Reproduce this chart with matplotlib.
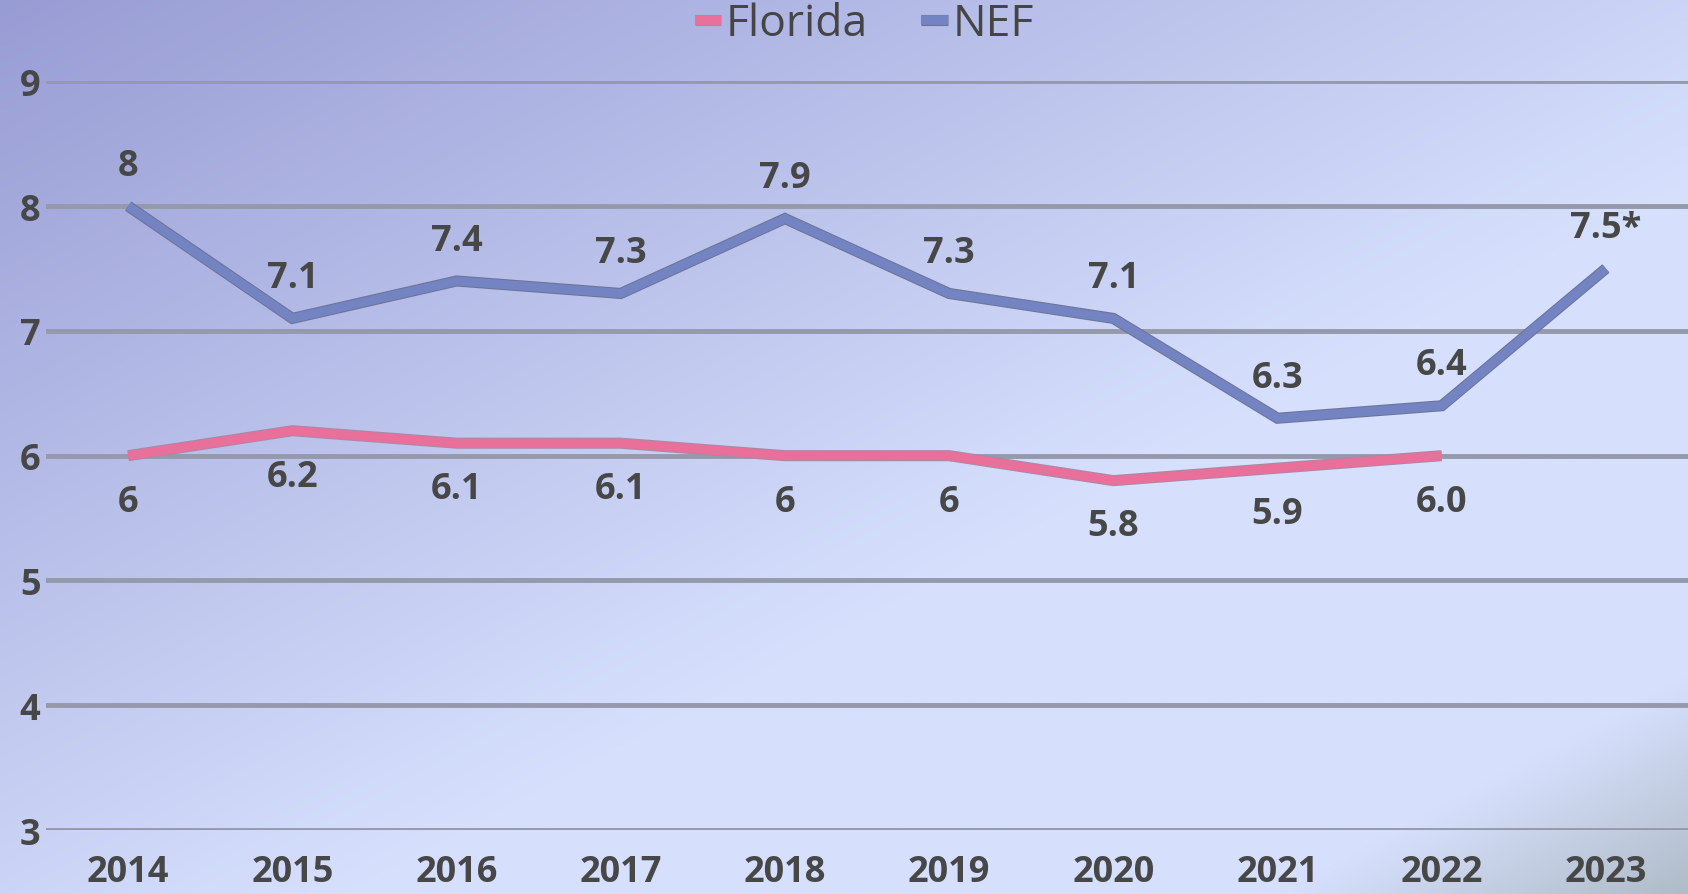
import matplotlib.pyplot as plt
import matplotlib.patheffects as pe
import numpy as np

# Datos
years = ['2014', '2015', '2016', '2017', '2018', '2019', '2020', '2021', '2022', '2023']
nef = [8, 7.1, 7.4, 7.3, 7.9, 7.3, 7.1, 6.3, 6.4, 7.5]
nef_labels = ['8', '7.1', '7.4', '7.3', '7.9', '7.3', '7.1', '6.3', '6.4', '7.5*']
florida = [6, 6.2, 6.1, 6.1, 6, 6, 5.8, 5.9, 6.0]
florida_labels = ['6', '6.2', '6.1', '6.1', '6', '6', '5.8', '5.9', '6.0']

plt.rcParams['font.family'] = ['Open Sans', 'DejaVu Sans']

fig = plt.figure(figsize=(16.88, 8.95), dpi=100)

# fondo degradado
bg = fig.add_axes([0, 0, 1, 1], zorder=-1)
xx, yy = np.meshgrid(np.linspace(0, 1, 300), np.linspace(0, 1, 300))
d = (xx + yy) / 2  # 0 arriba-izq, 1 abajo-der
c0 = np.array([0x98, 0x9c, 0xd4]) / 255
c1 = np.array([0xd6, 0xe0, 0xfd]) / 255
c2 = np.array([0xb0, 0xbc, 0xc8]) / 255
t = np.clip(d / 0.6, 0, 1)[..., None]
img = c0 + (c1 - c0) * t
t2 = np.clip((d - 0.88) / 0.12, 0, 1)[..., None]
img = img + (c2 - img) * t2
bg.imshow(img, extent=[0, 1, 0, 1], aspect='auto', origin='upper')
bg.axis('off')

ax = fig.add_axes([0.0273, 0.0715, 0.9727, 0.8365])
ax.patch.set_alpha(0)
x = np.arange(len(years))

grid_col = '#9599ab'
for v in range(3, 10):
    ax.axhline(v, color=grid_col, lw=3.5, zorder=1)

fl_col = '#e8709b'
nef_col = '#7484c2'
l1, = ax.plot(x[:len(florida)], florida, color=fl_col, lw=6.5, zorder=3,
              solid_joinstyle='miter', solid_capstyle='butt', label='Florida',
              path_effects=[pe.Stroke(linewidth=8, foreground='#a88aa6'), pe.Normal()])
l2, = ax.plot(x, nef, color=nef_col, lw=6.5, zorder=3,
              solid_joinstyle='miter', solid_capstyle='butt', label='NEF',
              path_effects=[pe.Stroke(linewidth=8, foreground='#6c7498'), pe.Normal()])

txt_col = '#474747'
fs = 26
for i, (v, s) in enumerate(zip(nef, nef_labels)):
    ax.annotate(s, (x[i], v), xytext=(0, 29), textcoords='offset points',
                ha='center', va='center', fontsize=fs, fontweight='bold', color=txt_col)
for i, (v, s) in enumerate(zip(florida, florida_labels)):
    ax.annotate(s, (x[i], v), xytext=(0, -33), textcoords='offset points',
                ha='center', va='center', fontsize=fs, fontweight='bold', color=txt_col)

ax.set_xlim(-0.5, 9.5)
ax.set_ylim(3, 9)
ax.set_xticks(x)
ax.set_xticklabels(years)
ax.set_yticks(range(3, 10))
ax.tick_params(length=0, labelsize=fs, labelcolor=txt_col, pad=4)
ax.tick_params(axis='x', pad=17)
for lab in ax.get_xticklabels() + ax.get_yticklabels():
    lab.set_fontweight('bold')
for sp in ax.spines.values():
    sp.set_visible(False)

leg = fig.legend(handles=[l1, l2], loc='center', bbox_to_anchor=(0.512, 0.972),
                 ncol=2, frameon=False, fontsize=32, handlelength=0.6,
                 handletextpad=0.1, columnspacing=1.2, labelcolor='#454545')
for h in leg.legend_handles:
    h.set_linewidth(7)

fig.savefig('out.png', dpi=100)
